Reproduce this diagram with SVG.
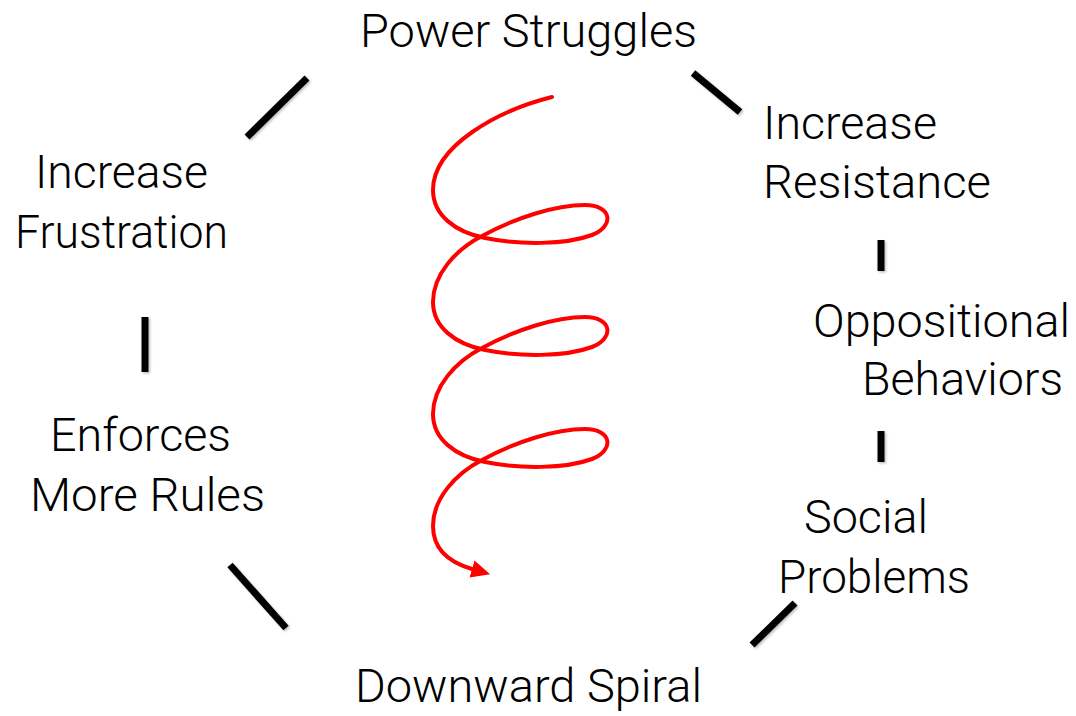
<svg xmlns="http://www.w3.org/2000/svg" width="1076" height="716" viewBox="0 0 1076 716">
<style>
.lbl{font-family:Roboto,"Liberation Sans",sans-serif;font-weight:300;font-size:47px;fill:#000;}
.bar{stroke:#000;stroke-width:7;fill:none;filter:url(#sh);}
.spiral{stroke:#ff0000;stroke-width:4;fill:none;stroke-linecap:round;}
</style>
<defs>
<filter id="sh" filterUnits="userSpaceOnUse" x="0" y="0" width="1076" height="716">
<feDropShadow dx="1.5" dy="1.5" stdDeviation="1.2" flood-color="#000" flood-opacity="0.25"/>
</filter>
<marker id="ah" markerUnits="userSpaceOnUse" markerWidth="20" markerHeight="20" refX="0" refY="8" orient="auto" viewBox="0 0 18 16">
<path d="M0,0 L17,8 L0,16 z" fill="#ff0000"/>
</marker>
</defs>
<rect width="1076" height="716" fill="#fff"/>
<g id="connectors">
<line class="bar" x1="307" y1="78" x2="247" y2="137"/>
<line class="bar" x1="693" y1="73" x2="740" y2="112"/>
<line class="bar" x1="881" y1="240" x2="881" y2="271"/>
<line class="bar" x1="881" y1="431" x2="881" y2="462"/>
<line class="bar" x1="145" y1="317" x2="145" y2="372"/>
<line class="bar" x1="230" y1="565" x2="286" y2="628"/>
<line class="bar" x1="795" y1="603" x2="752" y2="645"/>
</g>
<g id="spiral">
<path class="spiral" marker-end="url(#ah)" d="M552,97 C500,110 433,145 433,190 C433,215 455,232 485,238 C520,245 565,245 592,235 C615,226 612,205 585,205 C555,205 515,218 482,236 C455,250 433,275 433,302 C433,327 455,344 485,350 C520,357 565,357 592,347 C615,338 612,317 585,317 C555,317 515,330 482,348 C455,362 433,387 433,414 C433,439 455,456 485,462 C520,469 565,469 592,459 C615,450 612,429 585,429 C555,429 515,442 482,460 C455,474 433,499 433,526 C433,548 448,562 472,569"/>
</g>
<g id="power-struggles"><text class="lbl" x="360" y="47" textLength="337" lengthAdjust="spacingAndGlyphs">Power Struggles</text></g>
<g id="increase-resistance">
<text class="lbl" x="763" y="139" textLength="174" lengthAdjust="spacingAndGlyphs">Increase</text>
<text class="lbl" x="763" y="198" textLength="228" lengthAdjust="spacingAndGlyphs">Resistance</text>
</g>
<g id="oppositional-behaviors">
<text class="lbl" x="813" y="337" textLength="257" lengthAdjust="spacingAndGlyphs">Oppositional</text>
<text class="lbl" x="862" y="395" textLength="201" lengthAdjust="spacingAndGlyphs">Behaviors</text>
</g>
<g id="social-problems">
<text class="lbl" x="804" y="533" textLength="124" lengthAdjust="spacingAndGlyphs">Social</text>
<text class="lbl" x="778" y="593" textLength="192" lengthAdjust="spacingAndGlyphs">Problems</text>
</g>
<g id="downward-spiral"><text class="lbl" x="355" y="702" textLength="347" lengthAdjust="spacingAndGlyphs">Downward Spiral</text></g>
<g id="enforces-more-rules">
<text class="lbl" x="50" y="451" textLength="181" lengthAdjust="spacingAndGlyphs">Enforces</text>
<text class="lbl" x="30" y="511" textLength="235" lengthAdjust="spacingAndGlyphs">More Rules</text>
</g>
<g id="increase-frustration">
<text class="lbl" x="35" y="188" textLength="173" lengthAdjust="spacingAndGlyphs">Increase</text>
<text class="lbl" x="15" y="248" textLength="213" lengthAdjust="spacingAndGlyphs">Frustration</text>
</g>
</svg>
